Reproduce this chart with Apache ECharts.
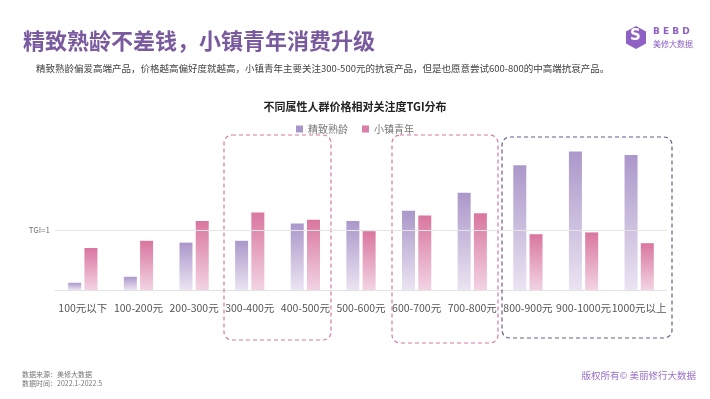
<!DOCTYPE html>
<html>
<head>
<meta charset="utf-8">
<script src="https://cdn.jsdelivr.net/npm/echarts@6/dist/echarts.min.js"></script>
<style>
  html, body { margin: 0; padding: 0; background: #fff; }
  #chart { width: 710px; height: 399px; }
</style>
</head>
<body>
<div id="chart"></div>
<script>
const categories = ['100元以下', '100-200元', '200-300元', '300-400元', '400-500元', '500-600元',
  '600-700元', '700-800元', '800-900元', '900-1000元', '1000元以上']
const matureValues = [0.12, 0.22, 0.79, 0.82, 1.11, 1.15, 1.32, 1.62, 2.08, 2.31, 2.25]
const townValues = [0.70, 0.82, 1.15, 1.29, 1.17, 0.98, 1.24, 1.28, 0.93, 0.96, 0.78]
const seriesNames = ['精致熟龄', '小镇青年']
const tgiLine = 1

const serif = '"Noto Sans CJK SC", "Noto Serif CJK SC", serif'

function fade(top, bottom) {
  return new echarts.graphic.LinearGradient(0, 0, 0, 1, [
    { offset: 0, color: top },
    { offset: 1, color: bottom }
  ])
}

function dashBox(x, y, w, h, color) {
  return {
    type: 'rect',
    shape: { x: x, y: y, width: w, height: h, r: 8 },
    style: { fill: 'none', stroke: color, lineWidth: 1.2, lineDash: [4, 3] },
    z: 1
  }
}

const chart = echarts.init(document.getElementById('chart'))
chart.setOption({
  backgroundColor: '#fff',
  animation: false,
  title: {
    text: '不同属性人群价格相对关注度TGI分布',
    left: 'center',
    top: 96,
    textStyle: { fontSize: 11, fontWeight: 'bold', color: '#222', fontFamily: serif }
  },
  legend: {
    top: 119,
    left: 'center',
    itemWidth: 7,
    itemHeight: 7,
    itemGap: 14,
    icon: 'rect',
    textStyle: { fontSize: 10, color: '#777', fontFamily: serif },
    data: [
      { name: seriesNames[0], itemStyle: { color: '#a996c9' } },
      { name: seriesNames[1], itemStyle: { color: '#d97ea8' } }
    ]
  },
  grid: { left: 55, right: 43, top: 140, bottom: 109 },
  xAxis: {
    type: 'category',
    data: categories,
    axisLine: { lineStyle: { color: '#e2e2e2' } },
    axisTick: { show: false },
    axisLabel: { color: '#555', fontSize: 10.5, margin: 13, interval: 0, fontFamily: serif }
  },
  yAxis: {
    type: 'value',
    min: 0,
    max: 2.5,
    show: false,
    splitLine: { show: false }
  },
  series: [
    {
      name: seriesNames[0],
      type: 'bar',
      data: matureValues,
      barWidth: 13,
      barGap: '25%',
      itemStyle: { color: fade('#ab97ca', '#ebe4f2') },
      markLine: {
        silent: true,
        symbol: 'none',
        data: [{ yAxis: tgiLine }],
        lineStyle: { color: '#e4e4e4', type: 'solid', width: 1 },
        label: {
          position: 'start',
          formatter: 'TGI=1',
          color: '#777',
          fontSize: 8,
          distance: 5,
          fontFamily: serif
        }
      }
    },
    {
      name: seriesNames[1],
      type: 'bar',
      data: townValues,
      barWidth: 13,
      itemStyle: { color: fade('#d9769f', '#f2d3e3') }
    }
  ],
  graphic: [
    {
      type: 'text', left: 23, top: 30,
      style: { text: '精致熟龄不差钱，小镇青年消费升级', fontSize: 22, fontWeight: 'bold', fill: '#7a5a9e', fontFamily: serif }
    },
    {
      type: 'text', left: 36, top: 64,
      style: { text: '精致熟龄偏爱高端产品，价格越高偏好度就越高，小镇青年主要关注300-500元的抗衰产品，但是也愿意尝试600-800的中高端抗衰产品。', fontSize: 9.5, fill: '#444', fontFamily: serif }
    },
    // logo
    {
      type: 'polygon', z: 5,
      shape: { points: [[636, 26], [646, 31.5], [646, 43.5], [636, 49], [626, 43.5], [626, 31.5]] },
      style: { fill: '#8d62c4' }
    },
    {
      type: 'text', left: 630, top: 29, z: 6,
      style: { text: 'S', fontSize: 15, fontWeight: 'bold', fill: '#fff', fontFamily: 'DejaVu Sans' }
    },
    {
      type: 'text', left: 653, top: 27,
      style: { text: 'B E B D', fontSize: 9, fontWeight: 'bold', fill: '#8d62c4', fontFamily: 'DejaVu Sans' }
    },
    {
      type: 'text', left: 653, top: 40,
      style: { text: '美修大数据', fontSize: 8, fill: '#8d62c4', fontFamily: serif }
    },
    // highlight boxes
    dashBox(224, 135, 107, 205, '#d47aa5'),
    dashBox(392, 135, 106, 208, '#d47aa5'),
    dashBox(502, 137, 170, 201, '#6a5a88'),
    // footer
    {
      type: 'text', left: 22, top: 370,
      style: { text: '数据来源：美修大数据\n数据时间：2022.1-2022.5', fontSize: 7, lineHeight: 9, fill: '#777', fontFamily: serif }
    },
    {
      type: 'text', right: 14, top: 371,
      style: { text: '版权所有© 美丽修行大数据', fontSize: 9.5, fill: '#9a70c8', fontFamily: serif }
    }
  ]
})
</script>
</body>
</html>
